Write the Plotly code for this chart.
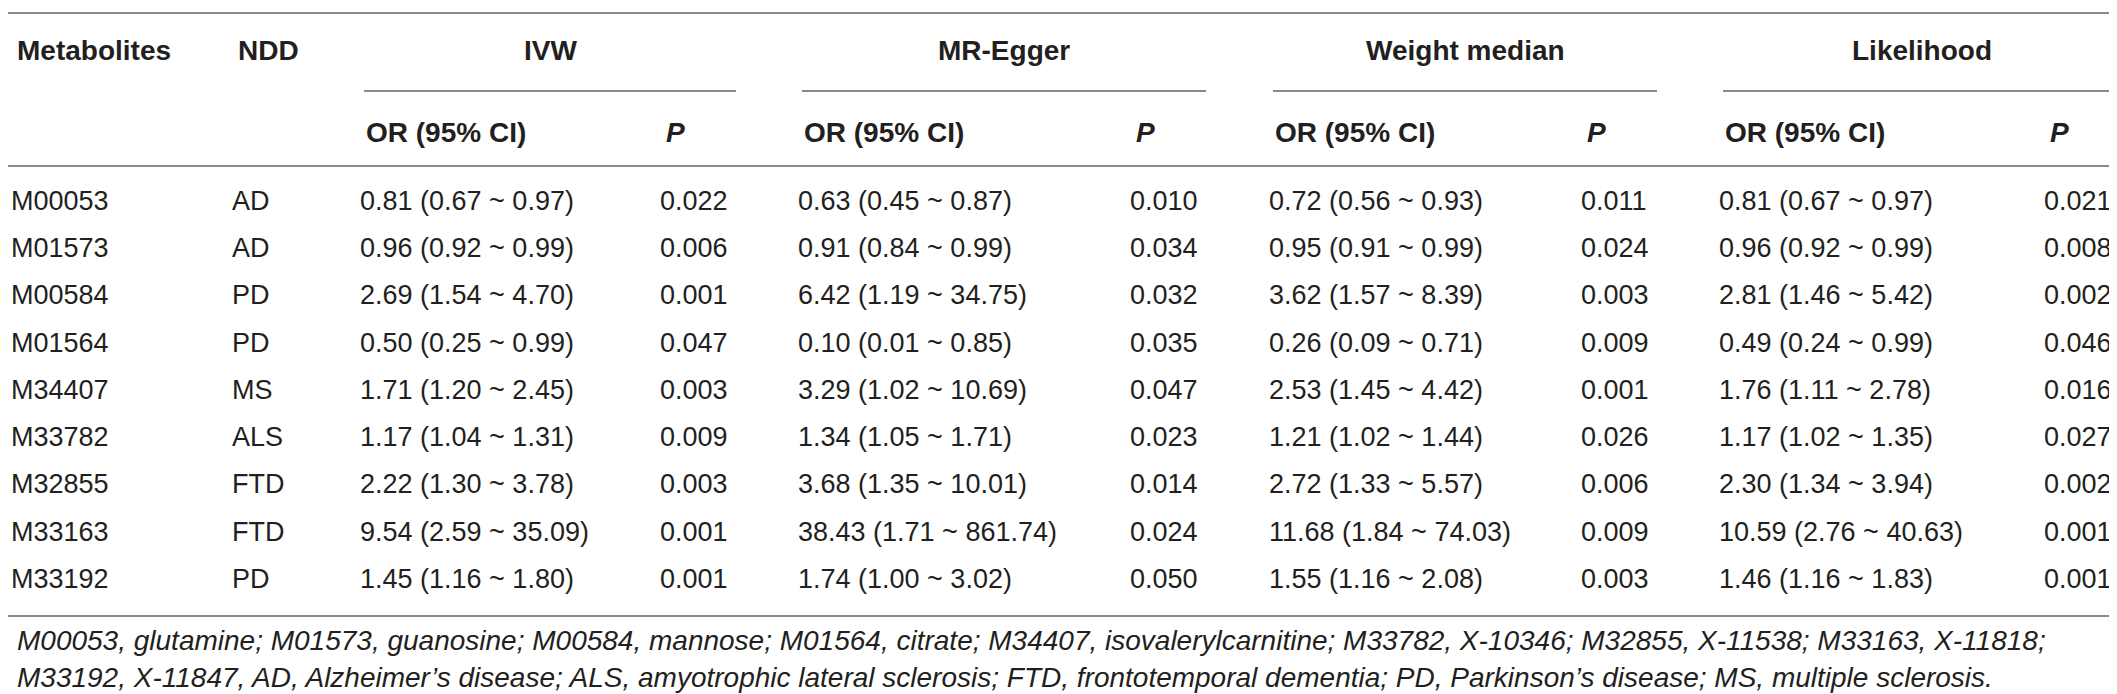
import plotly.graph_objects as go

# dados da tabela
metabolites = ["M00053", "M01573", "M00584", "M01564", "M34407", "M33782", "M32855", "M33163", "M33192"]
ndd = ["AD", "AD", "PD", "PD", "MS", "ALS", "FTD", "FTD", "PD"]

ivw_or = ["0.81 (0.67 ~ 0.97)", "0.96 (0.92 ~ 0.99)", "2.69 (1.54 ~ 4.70)", "0.50 (0.25 ~ 0.99)",
          "1.71 (1.20 ~ 2.45)", "1.17 (1.04 ~ 1.31)", "2.22 (1.30 ~ 3.78)", "9.54 (2.59 ~ 35.09)",
          "1.45 (1.16 ~ 1.80)"]
ivw_p = ["0.022", "0.006", "0.001", "0.047", "0.003", "0.009", "0.003", "0.001", "0.001"]

egger_or = ["0.63 (0.45 ~ 0.87)", "0.91 (0.84 ~ 0.99)", "6.42 (1.19 ~ 34.75)", "0.10 (0.01 ~ 0.85)",
            "3.29 (1.02 ~ 10.69)", "1.34 (1.05 ~ 1.71)", "3.68 (1.35 ~ 10.01)", "38.43 (1.71 ~ 861.74)",
            "1.74 (1.00 ~ 3.02)"]
egger_p = ["0.010", "0.034", "0.032", "0.035", "0.047", "0.023", "0.014", "0.024", "0.050"]

wm_or = ["0.72 (0.56 ~ 0.93)", "0.95 (0.91 ~ 0.99)", "3.62 (1.57 ~ 8.39)", "0.26 (0.09 ~ 0.71)",
         "2.53 (1.45 ~ 4.42)", "1.21 (1.02 ~ 1.44)", "2.72 (1.33 ~ 5.57)", "11.68 (1.84 ~ 74.03)",
         "1.55 (1.16 ~ 2.08)"]
wm_p = ["0.011", "0.024", "0.003", "0.009", "0.001", "0.026", "0.006", "0.009", "0.003"]

lik_or = ["0.81 (0.67 ~ 0.97)", "0.96 (0.92 ~ 0.99)", "2.81 (1.46 ~ 5.42)", "0.49 (0.24 ~ 0.99)",
          "1.76 (1.11 ~ 2.78)", "1.17 (1.02 ~ 1.35)", "2.30 (1.34 ~ 3.94)", "10.59 (2.76 ~ 40.63)",
          "1.46 (1.16 ~ 1.83)"]
lik_p = ["0.021", "0.008", "0.002", "0.046", "0.016", "0.027", "0.002", "0.001", "0.001"]

methods = ["IVW", "MR-Egger", "Weight median", "Likelihood"]

footnote = [
    "M00053, glutamine; M01573, guanosine; M00584, mannose; M01564, citrate; M34407, isovalerylcarnitine; "
    "M33782, X-10346; M32855, X-11538; M33163, X-11818;",
    "M33192, X-11847, AD, Alzheimer\u2019s disease; ALS, amyotrophic lateral sclerosis; FTD, frontotemporal dementia; "
    "PD, Parkinson\u2019s disease; MS, multiple sclerosis.",
]

# layout (pixels)
W, H = 2117, 694
FONT = "Liberation Sans"
INK = "#231f20"
RULE = "#8a8a8a"
ROW0, ROW_H = 195, 47.25
HEAD_Y, SUB_Y = 42, 124
TOP_LINE, SUB_LINE, HEAD_LINE, BOT_LINE = 5, 83, 158, 608
groups = [(356, 728), (794, 1198), (1265, 1649), (1715, 2112)]
P_OFFSET = 72
TXT_DX = -4   # scatter text sits a few px right of its x

col_x = [7, 228]
for g0, g1 in groups:
    col_x += [g0, g1 - P_OFFSET]
columns = [metabolites, ndd, ivw_or, ivw_p, egger_or, egger_p, wm_or, wm_p, lik_or, lik_p]

fig = go.Figure()

row_y = [ROW0 + i * ROW_H for i in range(len(metabolites))]
for x, col in zip(col_x, columns):
    fig.add_trace(go.Scatter(
        x=[x + TXT_DX] * len(col), y=row_y, text=col, mode="text",
        textposition="middle right",
        textfont=dict(family=FONT, size=27, color=INK),
        hoverinfo="skip", showlegend=False,
    ))

# cabeçalhos
ann = []
ann.append(dict(x=col_x[0], y=HEAD_Y, text="<b>Metabolites</b>", xanchor="left"))
ann.append(dict(x=col_x[1], y=HEAD_Y, text="<b>NDD</b>", xanchor="left"))
for (g0, g1), name in zip(groups, methods):
    ann.append(dict(x=(g0 + g1) / 2, y=HEAD_Y, text="<b>%s</b>" % name, xanchor="center"))
    ann.append(dict(x=g0, y=SUB_Y, text="<b>OR (95% CI)</b>", xanchor="left"))
    ann.append(dict(x=g1 - P_OFFSET, y=SUB_Y, text="<b><i>P</i></b>", xanchor="left"))
for a in ann:
    a.update(xref="x", yref="y", yanchor="middle", showarrow=False,
             font=dict(family=FONT, size=28, color=INK))
    fig.add_annotation(**a)

for i, line in enumerate(footnote):
    fig.add_annotation(x=7, y=632 + i * 37, xref="x", yref="y", xanchor="left", yanchor="middle",
                       text="<i>%s</i>" % line, showarrow=False,
                       font=dict(family=FONT, size=28, color=INK))

# linhas
for y in (TOP_LINE, HEAD_LINE, BOT_LINE):
    fig.add_shape(type="line", x0=0, x1=2112, y0=y, y1=y, xref="x", yref="y",
                  line=dict(color=RULE, width=2))
for g0, g1 in groups:
    fig.add_shape(type="line", x0=g0, x1=g1, y0=SUB_LINE, y1=SUB_LINE, xref="x", yref="y",
                  line=dict(color=RULE, width=2))

fig.update_layout(
    width=W, height=H,
    margin=dict(l=0, r=0, t=0, b=0),
    paper_bgcolor="white", plot_bgcolor="white",
    xaxis=dict(range=[0, W], visible=False, fixedrange=True),
    yaxis=dict(range=[H, 0], visible=False, fixedrange=True),
)

fig.write_html("out.html")
